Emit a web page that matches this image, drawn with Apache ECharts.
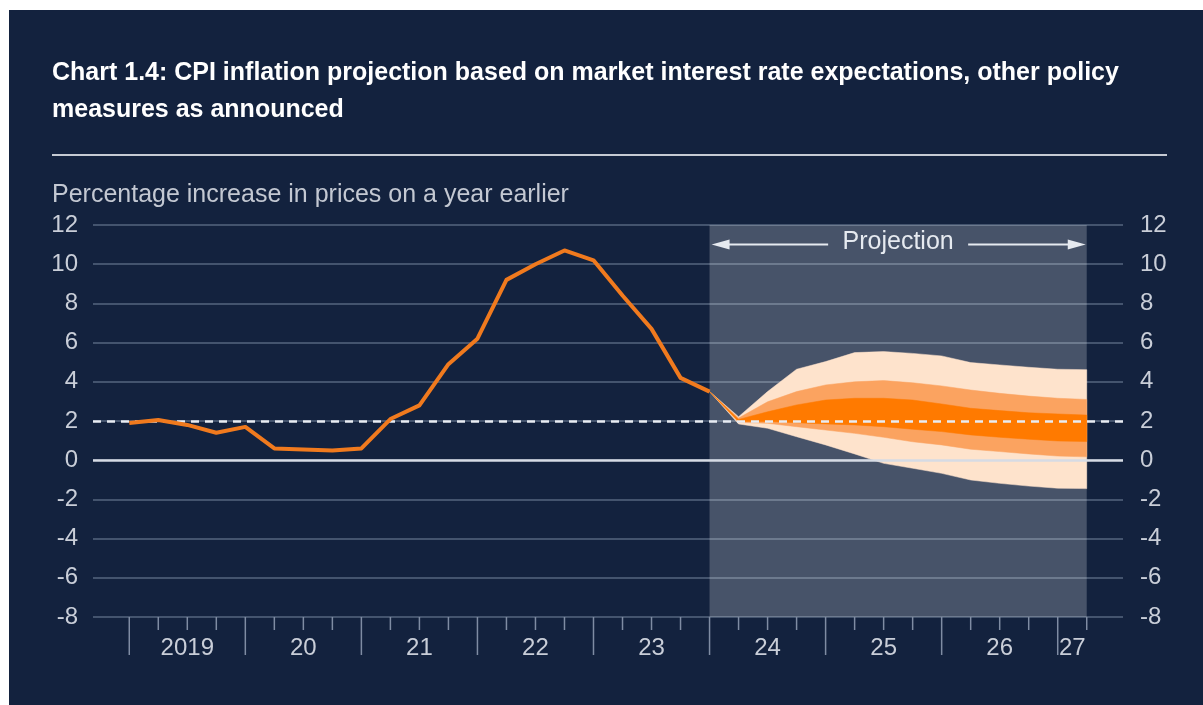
<!DOCTYPE html>
<html><head><meta charset="utf-8">
<script src="https://cdn.jsdelivr.net/npm/echarts@6/dist/echarts.min.js"></script>
<style>
html,body{margin:0;padding:0;background:#ffffff;overflow:hidden;}
#panel{position:absolute;left:9px;top:10px;width:1194px;height:695px;background:#13223e;}
#c{position:absolute;left:0;top:0;width:1203px;height:705px;}
</style>
</head><body><div id="panel"></div><div id="c"></div>
<script>
// Quarter index: 0 = 2019 Q1
const histQuarters = [0,1,2,3,4,5,6,7,8,9,10,11,12,13,14,15,16,17,18,19,20];
const cpi = [1.9,2.05,1.8,1.4,1.7,0.6,0.55,0.5,0.6,2.1,2.8,4.9,6.2,9.2,10.0,10.7,10.2,8.4,6.7,4.2,3.5];

const fanQuarters = [20,21,22,23,24,25,26,27,28,29,30,31,32,33];
const outerUpper = [3.5,2.22,3.5,4.64,5.03,5.49,5.54,5.45,5.32,4.98,4.86,4.74,4.64,4.62];
const midUpper   = [3.5,2.15,2.98,3.5,3.84,4.0,4.06,3.95,3.79,3.58,3.41,3.27,3.16,3.1];
const darkUpper  = [3.5,2.08,2.47,2.82,3.07,3.16,3.16,3.07,2.87,2.65,2.53,2.42,2.36,2.3];
const darkLower  = [3.5,1.98,1.97,1.91,1.85,1.8,1.71,1.58,1.46,1.29,1.17,1.07,0.98,0.95];
const midLower   = [3.5,1.93,1.88,1.71,1.54,1.37,1.17,0.94,0.78,0.56,0.44,0.32,0.21,0.17];
const outerLower = [3.5,1.85,1.63,1.2,0.78,0.32,-0.16,-0.41,-0.67,-1.01,-1.18,-1.32,-1.43,-1.45];

const yearLabels = ['2019','20','21','22','23','24','25','26','27'];
const yearStarts = [0,4,8,12,16,20,24,28,32];
const lastQuarter = 33;
const projectionStart = 20;
const projectionEnd = 33;
const projectionLabel = 'Projection';
const targetRate = 2;
const yTicks = {min:-8, max:12, interval:2};

const FONT = "'Liberation Sans', Arial, sans-serif";
const LABEL = '#c9ced8';

const chart = echarts.init(document.getElementById('c'), null, {renderer:'canvas'});

function bandSeries(upper, lower, color, z) {
  return {
    type:'custom', z:z, silent:true, clip:false,
    data:[0],
    renderItem:function(params, api){
      const pts = [];
      for (let i=0;i<fanQuarters.length;i++) pts.push(api.coord([fanQuarters[i], upper[i]]));
      for (let i=fanQuarters.length-1;i>=0;i--) pts.push(api.coord([fanQuarters[i], lower[i]]));
      return {type:'polygon', shape:{points:pts}, style:{fill:color, stroke:color, lineWidth:0.5}};
    }
  };
}

const tickData = [];
for (let k=0;k<=lastQuarter;k++) tickData.push(k);
const labelData = yearStarts.map((s,i)=>[ (s + Math.min(s+4,lastQuarter))/2, i ]);

const option = {
  backgroundColor:'transparent',
  animation:false,
  title:[
    {text:'Chart 1.4: CPI inflation projection based on market interest rate expectations, other policy\nmeasures as announced',
     left:52, top:55, padding:0,
     textStyle:{color:'#ffffff', fontSize:25, fontWeight:'bold', lineHeight:37, fontFamily:FONT}},
    {text:'Percentage increase in prices on a year earlier', left:52, top:183, padding:0,
     textStyle:{color:'#c3c8d2', fontSize:25, fontWeight:'normal', fontFamily:FONT}}
  ],
  graphic:[
    {type:'line', shape:{x1:52,y1:155,x2:1167,y2:155}, style:{stroke:'#c5cad3', lineWidth:2}, silent:true}
  ],
  grid:{left:93, right:80, top:225, bottom:88, containLabel:false},
  xAxis:{type:'value', min:-1.25, max:34.25, show:false},
  yAxis:[
    {type:'value', position:'left', min:yTicks.min, max:yTicks.max, interval:yTicks.interval,
     axisLine:{show:false}, axisTick:{show:false},
     axisLabel:{color:LABEL, fontSize:24, margin:15, fontFamily:FONT},
     splitLine:{show:true, lineStyle:{color:'#56667f', width:1.5}}},
    {type:'value', position:'right', min:yTicks.min, max:yTicks.max, interval:yTicks.interval,
     axisLine:{show:false}, axisTick:{show:false},
     axisLabel:{color:LABEL, fontSize:24, margin:17, fontFamily:FONT},
     splitLine:{show:false}}
  ],
  series:[
    {type:'line', data:[], z:1, silent:true,
     markArea:{silent:true, itemStyle:{color:'rgba(255,255,255,0.225)'},
       data:[[{xAxis:projectionStart, yAxis:yTicks.min},{xAxis:projectionEnd, yAxis:yTicks.max}]]}},
    bandSeries(outerUpper, outerLower, '#fee3cc', 2),
    bandSeries(midUpper, midLower, '#fba360', 3),
    bandSeries(darkUpper, darkLower, '#ff7a00', 4),
    {type:'line', data:[], z:5, silent:true,
     markLine:{silent:true, symbol:'none', label:{show:false},
       data:[
         {yAxis:0, lineStyle:{color:'#d6dbe4', width:2.5, type:'solid'}},
         {yAxis:targetRate, lineStyle:{color:'#e8ecf2', width:2.5, type:[8,6]}}
       ]}},
    {type:'line', z:6, silent:true, symbol:'none',
     data:histQuarters.map((q,i)=>[q, cpi[i]]),
     lineStyle:{color:'#f07a1e', width:4, join:'round'}},
    // x-axis ticks
    {type:'custom', z:6, silent:true, clip:false, data:tickData,
     renderItem:function(params, api){
       const k = api.value(0);
       const p = api.coord([k, yTicks.min]);
       const major = yearStarts.indexOf(k) >= 0;
       return {type:'line', shape:{x1:p[0], y1:p[1], x2:p[0], y2:p[1] + (major?38:13)},
               style:{stroke:'#7f8ca3', lineWidth:1.5}};
     }},
    // x-axis year labels
    {type:'custom', z:6, silent:true, clip:false, data:labelData,
     renderItem:function(params, api){
       const p = api.coord([api.value(0), yTicks.min]);
       return {type:'text', x:p[0], y:p[1]+31,
               style:{text:yearLabels[api.value(1)], fill:LABEL, fontSize:24, fontFamily:FONT,
                      align:'center', verticalAlign:'middle'}};
     }},
    // projection label with arrows
    {type:'custom', z:7, silent:true, clip:false, data:[[projectionStart, projectionEnd, 11]],
     renderItem:function(params, api){
       const a = api.coord([api.value(0), api.value(2)]);
       const b = api.coord([api.value(1), api.value(2)]);
       const y = a[1];
       const cx = (a[0]+b[0])/2;
       const col = '#e6eaf0';
       const ah = 18, aw = 5;
       return {type:'group', children:[
         {type:'line', shape:{x1:a[0]+ah-2, y1:y, x2:cx-70, y2:y}, style:{stroke:col, lineWidth:2}},
         {type:'polygon', shape:{points:[[a[0]+2,y],[a[0]+2+ah,y-aw],[a[0]+2+ah,y+aw]]}, style:{fill:col}},
         {type:'line', shape:{x1:cx+70, y1:y, x2:b[0]-ah+2, y2:y}, style:{stroke:col, lineWidth:2}},
         {type:'polygon', shape:{points:[[b[0]-1,y],[b[0]-1-ah,y-aw],[b[0]-1-ah,y+aw]]}, style:{fill:col}},
         {type:'text', x:cx, y:y-2, style:{text:projectionLabel, fill:col, fontSize:25, fontFamily:FONT,
                align:'center', verticalAlign:'middle'}}
       ]};
     }}
  ]
};
chart.setOption(option);
</script>
</body></html>
